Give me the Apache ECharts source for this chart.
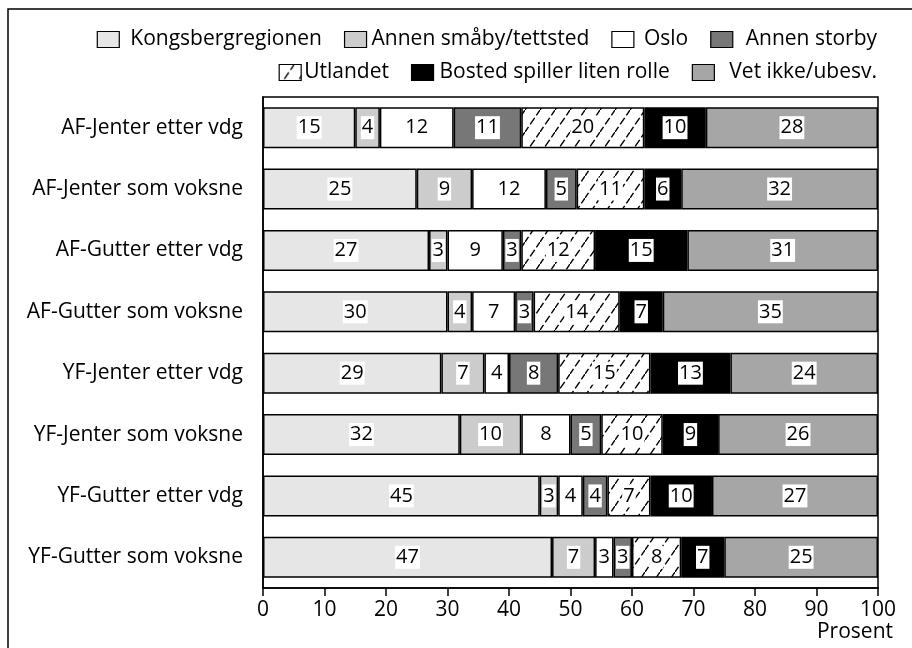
<!DOCTYPE html>
<html>
<head>
<meta charset="utf-8">
<script src="https://cdn.jsdelivr.net/npm/echarts@6/dist/echarts.min.js"></script>
<style>
  html, body { margin: 0; padding: 0; background: #fff; }
  #chart { width: 912px; height: 648px; }
</style>
</head>
<body>
<div id="chart"></div>
<script>
// Grupper (fra øverst til nederst)
const categories = [
  'AF-Jenter etter vdg',
  'AF-Jenter som voksne',
  'AF-Gutter etter vdg',
  'AF-Gutter som voksne',
  'YF-Jenter etter vdg',
  'YF-Jenter som voksne',
  'YF-Gutter etter vdg',
  'YF-Gutter som voksne'
];

// Andel i prosent for hvert bosted
const kongsbergregionen = [15, 25, 27, 30, 29, 32, 45, 47];
const annenSmaaby      = [4, 9, 3, 4, 7, 10, 3, 7];
const oslo             = [12, 12, 9, 7, 4, 8, 4, 3];
const annenStorby      = [11, 5, 3, 3, 8, 5, 4, 3];
const utlandet         = [20, 11, 12, 14, 15, 10, 7, 8];
const bostedLitenRolle = [10, 6, 15, 7, 13, 9, 10, 7];
const vetIkke          = [28, 32, 31, 35, 24, 26, 27, 25];

const xTicks = [0, 10, 20, 30, 40, 50, 60, 70, 80, 90, 100];

const FONT = 'Open Sans';
const FS = 21;

// Skravur for «Utlandet»
function hatchPattern() {
  const w = 15, h = 22;
  const c = document.createElement('canvas');
  c.width = w; c.height = h;
  const g = c.getContext('2d');
  g.fillStyle = '#fff';
  g.fillRect(0, 0, w, h);
  g.strokeStyle = '#000';
  g.lineWidth = 1.4;
  g.setLineDash([8, 3]);
  g.beginPath();
  g.moveTo(-1, h + 1.5); g.lineTo(w + 1, -1.5);
  g.stroke();
  return c;
}
const hatch = { image: hatchPattern(), repeat: 'repeat' };

const seriesDefs = [
  { name: 'Kongsbergregionen', data: kongsbergregionen, color: '#e6e6e6' },
  { name: 'Annen småby/tettsted', data: annenSmaaby, color: '#cccccc' },
  { name: 'Oslo', data: oslo, color: '#ffffff' },
  { name: 'Annen storby', data: annenStorby, color: '#777777' },
  { name: 'Utlandet', data: utlandet, color: hatch },
  { name: 'Bosted spiller liten rolle', data: bostedLitenRolle, color: '#000000' },
  { name: 'Vet ikke/ubesv.', data: vetIkke, color: '#a6a6a6' }
];

const series = seriesDefs.map(d => ({
  name: d.name,
  type: 'bar',
  stack: 'total',
  barWidth: 41,
  data: d.data,
  itemStyle: { color: d.color, borderColor: '#000', borderWidth: 1.5 },
  label: {
    show: true,
    position: 'inside',
    color: '#000',
    fontFamily: FONT,
    fontSize: 20,
    backgroundColor: '#fff',
    padding: [0, 1, 0, 1],
    lineHeight: 23
  },
  emphasis: { disabled: true }
}));

// Avstand mellom symbol og tekst i tegnforklaringen
function legendItem(name, gap) {
  return { name: name, textStyle: { padding: [0, 0, 0, gap] } };
}

const legendCommon = {
  right: 30,
  icon: 'rect',
  itemWidth: 22,
  itemHeight: 16,
  itemGap: 22,
  textStyle: { fontFamily: FONT, fontSize: FS, color: '#000' },
  itemStyle: { borderColor: '#000', borderWidth: 1.2 },
  selectedMode: false
};

const chart = echarts.init(document.getElementById('chart'), null, { renderer: 'canvas' });
chart.setOption({
  animation: false,
  backgroundColor: '#fff',
  graphic: [
    {
      type: 'rect',
      shape: { x: 8, y: 9, width: 1000, height: 1000 },
      style: { fill: null, stroke: '#000', lineWidth: 1.5 },
      silent: true,
      z: -1
    }
  ],
  title: {
    text: 'Prosent',
    right: 14,
    top: 617,
    textStyle: { fontFamily: FONT, fontSize: FS, fontWeight: 'normal', color: '#000' }
  },
  legend: [
    Object.assign({}, legendCommon, {
      top: 24,
      data: [
        legendItem('Kongsbergregionen', 6),
        legendItem('Annen småby/tettsted', 0),
        legendItem('Oslo', 5),
        legendItem('Annen storby', 8)
      ]
    }),
    Object.assign({}, legendCommon, {
      top: 57,
      data: [
        legendItem('Utlandet', -2),
        legendItem('Bosted spiller liten rolle', 1),
        legendItem('Vet ikke/ubesv.', 10)
      ]
    })
  ],
  grid: {
    left: 263,
    right: 34,
    top: 97,
    bottom: 60,
    show: true,
    borderColor: '#000',
    borderWidth: 1.5,
    backgroundColor: '#fff'
  },
  xAxis: {
    type: 'value',
    min: 0,
    max: 100,
    interval: 10,
    axisLine: { show: true, lineStyle: { color: '#000', width: 1.5 } },
    axisTick: { show: true, length: 8, lineStyle: { color: '#000', width: 1.5 } },
    splitLine: { show: false },
    axisLabel: {
      color: '#000',
      fontFamily: FONT,
      fontSize: FS,
      margin: 12,
      formatter: v => xTicks.includes(v) ? String(v) : ''
    }
  },
  yAxis: {
    type: 'category',
    inverse: true,
    data: categories,
    axisLine: { show: true, lineStyle: { color: '#000', width: 1.5 } },
    axisTick: { show: false },
    axisLabel: {
      color: '#000',
      fontFamily: FONT,
      fontSize: FS,
      margin: 20
    }
  },
  series: series
});
</script>
</body>
</html>
